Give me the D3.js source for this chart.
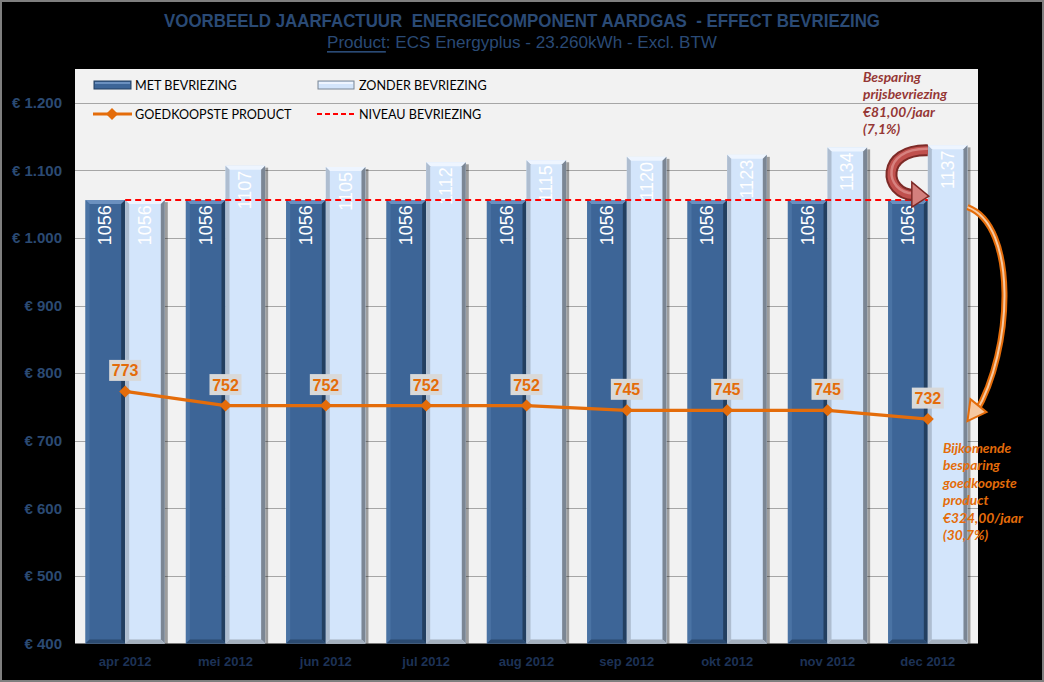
<!DOCTYPE html>
<html>
<head>
<meta charset="utf-8">
<script src="https://cdn.jsdelivr.net/npm/d3@7"></script>
<style>
  html, body { margin: 0; padding: 0; background: #000; }
  svg { display: block; }
</style>
</head>
<body>
<svg id="chart" width="1044" height="682"></svg>
<script>
// ---------- DATA ----------
const categories = ["apr 2012", "mei 2012", "jun 2012", "jul 2012", "aug 2012", "sep 2012", "okt 2012", "nov 2012", "dec 2012"];
const metBevriezing = [1056, 1056, 1056, 1056, 1056, 1056, 1056, 1056, 1056];
const zonderBevriezing = [1056, 1107, 1105, 1112, 1115, 1120, 1123, 1134, 1137];
const goedkoopsteProduct = [773, 752, 752, 752, 752, 745, 745, 745, 732];
const niveauBevriezing = 1056;
const yTicks = [400, 500, 600, 700, 800, 900, 1000, 1100, 1200];
const yTickLabels = ["€ 400", "€ 500", "€ 600", "€ 700", "€ 800", "€ 900", "€ 1.000", "€ 1.100", "€ 1.200"];
const seriesNames = ["MET BEVRIEZING", "ZONDER BEVRIEZING", "GOEDKOOPSTE PRODUCT", "NIVEAU BEVRIEZING"];
const titleText = "VOORBEELD JAARFACTUUR  ENERGIECOMPONENT AARDGAS  - EFFECT BEVRIEZING";
const subtitleLead = "Product";
const subtitleRest = ": ECS Energyplus - 23.260kWh - Excl. BTW";
const note1 = ["Besparing", "prijsbevriezing", "€81,00/jaar", "(7,1%)"];
const note2 = ["Bijkomende", "besparing", "goedkoopste", "product", "€324,00/jaar", "(30,7%)"];

// ---------- LAYOUT ----------
const svg = d3.select("#chart");
const W = 1044, H = 682;
const plot = { left: 75, right: 978, top: 69, bottom: 643.5 };

svg.append("rect").attr("x", 0).attr("y", 0).attr("width", W).attr("height", H).attr("fill", "#000");
svg.append("rect").attr("x", 1).attr("y", 1).attr("width", W - 2).attr("height", H - 2)
  .attr("fill", "none").attr("stroke", "#7f7f7f").attr("stroke-width", 2);

const x0 = d3.scaleBand().domain(categories).range([plot.left, plot.right]).padding(0);
const groupW = x0.step() * 0.79;
const x1 = d3.scaleBand().domain(["met", "zonder"]).range([0, groupW]).padding(0);
const groupX = c => x0(c) + (x0.step() - groupW) / 2;
const centerX = c => groupX(c) + groupW / 2;
const y = d3.scaleLinear().domain([400, 1250]).range([plot.bottom, plot.top]);

// plot background
svg.append("rect").attr("x", plot.left).attr("y", plot.top)
  .attr("width", plot.right - plot.left).attr("height", plot.bottom - plot.top)
  .attr("fill", "#f2f2f2");

// gridlines
svg.append("g").selectAll("line").data(yTicks.slice(1)).join("line")
  .attr("x1", plot.left).attr("x2", plot.right)
  .attr("y1", d => Math.round(y(d)) + 0.5).attr("y2", d => Math.round(y(d)) + 0.5)
  .attr("stroke", "#a6a6a6").attr("stroke-width", 1.2);

// y axis labels
const yAxis = d3.axisLeft(y).tickValues(yTicks).tickSize(0).tickPadding(0)
  .tickFormat((d, i) => yTickLabels[i]);
const yg = svg.append("g").attr("transform", `translate(${plot.left - 13},0)`).call(yAxis);
yg.select(".domain").remove();
yg.selectAll("text").attr("fill", "#2b4a73").attr("font-family", "Liberation Sans, Arial, sans-serif")
  .attr("font-weight", "bold").attr("font-size", 15);

// x axis labels
const xAxis = d3.axisBottom(x0).tickSize(0).tickPadding(0);
const xg = svg.append("g").attr("transform", `translate(0,${plot.bottom + 13})`).call(xAxis);
xg.select(".domain").remove();
xg.selectAll("text").attr("fill", "#1d3256").attr("font-family", "Liberation Sans, Arial, sans-serif")
  .attr("font-weight", "bold").attr("font-size", 13);

// ---------- BEVELED BARS ----------
const styles = {
  met:    { main: "#3d6597", top: "#6b90bf", left: "#4a73a4", right: "#233f60", bottom: "#2b4a70" },
  zonder: { main: "#d3e5fb", top: "#eef5ff", left: "#aebdd0", right: "#7b8694", bottom: "#a3afbd" }
};
function bevelBar(g, bx, by, bw, bh, st) {
  const b = 4;
  g.append("rect").attr("x", bx + bw).attr("y", by + 2).attr("width", 3).attr("height", bh - 2)
    .attr("fill", "#000").attr("opacity", 0.35);
  g.append("rect").attr("x", bx).attr("y", by).attr("width", bw).attr("height", bh).attr("fill", st.main);
  const poly = (pts, fill) => g.append("polygon").attr("points", pts.map(p => p.join(",")).join(" ")).attr("fill", fill);
  poly([[bx, by], [bx + bw, by], [bx + bw - b, by + b], [bx + b, by + b]], st.top);
  poly([[bx, by], [bx + b, by + b], [bx + b, by + bh - b], [bx, by + bh]], st.left);
  poly([[bx + bw, by], [bx + bw, by + bh], [bx + bw - b, by + bh - b], [bx + bw - b, by + b]], st.right);
  poly([[bx, by + bh], [bx + b, by + bh - b], [bx + bw - b, by + bh - b], [bx + bw, by + bh]], st.bottom);
}
const barsG = svg.append("g");
const labelsG = svg.append("g");
categories.forEach((c, i) => {
  [["met", metBevriezing[i]], ["zonder", zonderBevriezing[i]]].forEach(([k, v]) => {
    const bx = groupX(c) + x1(k);
    const bw = x1.bandwidth();
    const by = y(v);
    bevelBar(barsG, bx, by, bw, plot.bottom - by, styles[k]);
    labelsG.append("text")
      .attr("transform", `translate(${bx + bw / 2},${by + 5}) rotate(-90)`)
      .attr("text-anchor", "end").attr("dominant-baseline", "central")
      .attr("fill", "#fff").attr("font-family", "Liberation Sans, Arial, sans-serif")
      .attr("font-size", 18).text(v);
  });
});

// niveau bevriezing (red dashed)
svg.append("line")
  .attr("x1", centerX(categories[0])).attr("x2", centerX(categories[categories.length - 1]))
  .attr("y1", y(niveauBevriezing)).attr("y2", y(niveauBevriezing))
  .attr("stroke", "#ff0000").attr("stroke-width", 2).attr("stroke-dasharray", "6,4");

// goedkoopste product line
const orange = "#e46c0a";
const line = d3.line().x((d, i) => centerX(categories[i])).y(d => y(d));
svg.append("path").datum(goedkoopsteProduct).attr("d", line)
  .attr("fill", "none").attr("stroke", orange).attr("stroke-width", 3.2);
const diamond = d3.symbol().type(d3.symbolSquare).size(72);
svg.append("g").selectAll("path").data(goedkoopsteProduct).join("path")
  .attr("d", diamond)
  .attr("transform", (d, i) => `translate(${centerX(categories[i])},${y(d)}) rotate(45)`)
  .attr("fill", orange);
const lblG = svg.append("g").selectAll("g").data(goedkoopsteProduct).join("g")
  .attr("transform", (d, i) => `translate(${centerX(categories[i])},${y(d) - 21})`);
lblG.append("rect").attr("x", -16).attr("y", -10.5).attr("width", 32).attr("height", 21).attr("fill", "#d9d9d9");
lblG.append("text").attr("text-anchor", "middle").attr("dominant-baseline", "central").attr("y", 0.5)
  .attr("fill", orange).attr("font-family", "Liberation Sans, Arial, sans-serif")
  .attr("font-weight", "bold").attr("font-size", 16).text(d => d);

// ---------- LEGEND ----------
const leg = svg.append("g").attr("font-family", "Lato, Liberation Sans, sans-serif").attr("font-size", 12.6).attr("fill", "#000");
const legRows = [85, 114];
const legCols = [94, 318];
function bevelBarMini(g, bx, by, bw, bh, st) {
  g.append("rect").attr("x", bx).attr("y", by).attr("width", bw).attr("height", bh).attr("fill", st.main)
    .attr("stroke", st.right).attr("stroke-width", 1);
  g.append("rect").attr("x", bx + 1).attr("y", by + 1).attr("width", bw - 2).attr("height", 2).attr("fill", st.top);
}
bevelBarMini(leg, legCols[0], legRows[0] - 4, 37, 8, styles.met);
bevelBarMini(leg, legCols[1], legRows[0] - 4, 36, 8, styles.zonder);
leg.append("line").attr("x1", legCols[0] - 1).attr("x2", legCols[0] + 38).attr("y1", legRows[1]).attr("y2", legRows[1])
  .attr("stroke", orange).attr("stroke-width", 3.2);
leg.append("path").attr("d", diamond).attr("transform", `translate(${legCols[0] + 18},${legRows[1]}) rotate(45)`).attr("fill", orange);
leg.append("line").attr("x1", legCols[1] - 1).attr("x2", legCols[1] + 36).attr("y1", legRows[1]).attr("y2", legRows[1])
  .attr("stroke", "#ff0000").attr("stroke-width", 2).attr("stroke-dasharray", "5,3");
[[0, 0], [1, 0], [0, 1], [1, 1]].forEach(([c, r]) => {
  leg.append("text").attr("x", legCols[c] + 41).attr("y", legRows[r]).attr("dominant-baseline", "central")
    .text(seriesNames[c + r * 2]);
});

// ---------- TITLE ----------
svg.append("text").attr("x", 522).attr("y", 21).attr("text-anchor", "middle").attr("dominant-baseline", "central")
  .attr("fill", "#2a4a75").attr("font-family", "Liberation Sans Narrow, Arial Narrow, Liberation Sans, sans-serif")
  .attr("font-weight", "bold").attr("font-size", 17.5)
  .attr("textLength", 716).attr("lengthAdjust", "spacingAndGlyphs").attr("xml:space", "preserve")
  .text(titleText);
const sub = svg.append("text").attr("x", 522).attr("y", 42).attr("text-anchor", "middle").attr("dominant-baseline", "central")
  .attr("fill", "#2a4a75").attr("font-family", "Liberation Sans Narrow, Arial Narrow, Liberation Sans, sans-serif")
  .attr("font-size", 16.5).attr("textLength", 390).attr("lengthAdjust", "spacingAndGlyphs");
sub.append("tspan").attr("text-decoration", "underline").text(subtitleLead);
sub.append("tspan").text(subtitleRest);

// ---------- ANNOTATIONS ----------
const lastC = categories[categories.length - 1];
const zx = groupX(lastC) + x1("zonder");
const zw = x1.bandwidth();
const darkRed = "#953735";

// red curved arrow from top of zonder bar to top of met bar
const yA = y(zonderBevriezing[zonderBevriezing.length - 1]);
const yB = y(metBevriezing[metBevriezing.length - 1]);
const redPath = `M${zx},${yA + 5} C${zx - 48},${yA + 4} ${zx - 44},${yB - 6} ${zx - 14},${yB - 5}`;
svg.append("path").attr("d", redPath).attr("fill", "none").attr("stroke", "#7d2a27").attr("stroke-width", 12);
svg.append("path").attr("d", redPath).attr("fill", "none").attr("stroke", "#c0504d").attr("stroke-width", 8);
svg.append("path").attr("d", redPath).attr("fill", "none").attr("stroke", "#dc8f8c").attr("stroke-width", 2.5)
  .attr("transform", "translate(0,-1.5)").attr("opacity", 0.8);
svg.append("polygon")
  .attr("points", `${zx - 16},${yB - 18} ${zx + 1},${yB - 4} ${zx - 16},${yB + 7}`)
  .attr("fill", "#d4807d").attr("stroke", "#7d2a27").attr("stroke-width", 1.5);

// orange curved arrow from right side of zonder bar down to the product line
const xr = zx + zw;
const yC = y(niveauBevriezing);
const yD = y(goedkoopsteProduct[goedkoopsteProduct.length - 1]);
const oPath = `M${xr},${yC + 7} C${xr + 50},${yC + 25} ${xr + 46},${yD - 70} ${xr + 8},${yD - 6}`;
svg.append("path").attr("d", oPath).attr("fill", "none").attr("stroke", orange).attr("stroke-width", 6);
svg.append("path").attr("d", oPath).attr("fill", "none").attr("stroke", "#f6c8a0").attr("stroke-width", 2);
svg.append("polygon")
  .attr("points", `${xr},${yD + 2} ${xr + 3},${yD - 20} ${xr + 19},${yD - 7}`)
  .attr("fill", "#f6c8a0").attr("stroke", orange).attr("stroke-width", 2);

const noteFont = "Lato, Liberation Sans, sans-serif";
svg.append("g").selectAll("text").data(note1).join("text")
  .attr("x", 863).attr("y", (d, i) => 76 + i * 17.6).attr("dominant-baseline", "central")
  .attr("fill", darkRed).attr("font-family", noteFont).attr("font-weight", "bold").attr("font-style", "italic")
  .attr("font-size", 13.8).text(d => d);
svg.append("g").selectAll("text").data(note2).join("text")
  .attr("x", 943).attr("y", (d, i) => 447 + i * 17.5).attr("dominant-baseline", "central")
  .attr("fill", orange).attr("font-family", noteFont).attr("font-weight", "bold").attr("font-style", "italic")
  .attr("font-size", 13.8).text(d => d);
</script>
</body>
</html>
